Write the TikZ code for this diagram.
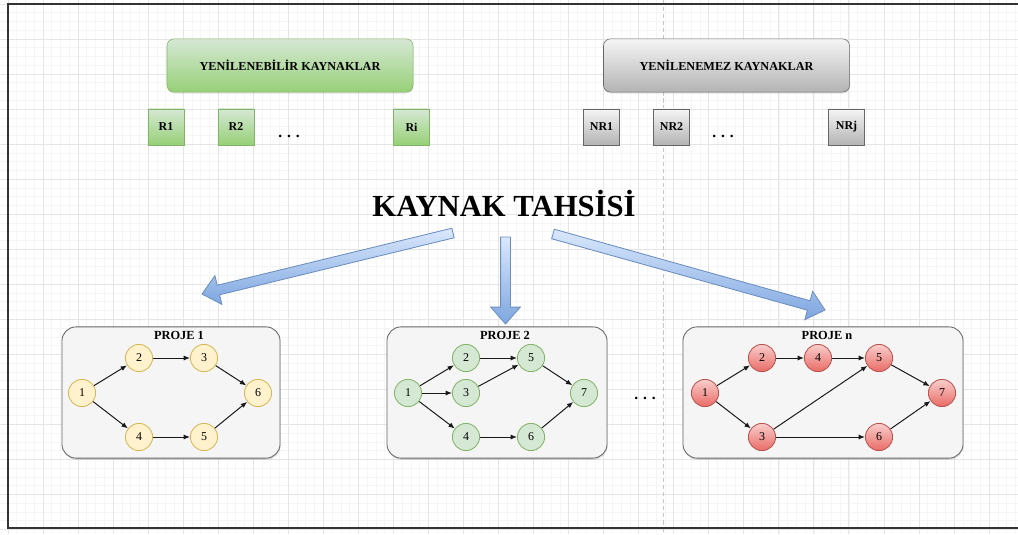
\documentclass[tikz,border=0pt]{standalone}
\usepackage{fontspec}
\setmainfont{Liberation Serif}
\usepackage{xcolor}
\definecolor{grnfill}{HTML}{D5E8D4}
\definecolor{grndark}{HTML}{97D077}
\definecolor{grnline}{HTML}{82B366}
\definecolor{gryfill}{HTML}{F5F5F5}
\definecolor{grydark}{HTML}{B3B3B3}
\definecolor{gryline}{HTML}{666666}
\definecolor{ylwfill}{HTML}{FFF2CC}
\definecolor{ylwline}{HTML}{D6B656}
\definecolor{redfill}{HTML}{F8CECC}
\definecolor{reddark}{HTML}{EA6B66}
\definecolor{redline}{HTML}{B85450}
\definecolor{blufill}{HTML}{DAE8FC}
\definecolor{bludark}{HTML}{7EA6E0}
\definecolor{bluline}{HTML}{6C8EBF}
\usepackage{tikz}
\usetikzlibrary{arrows.meta,calc,shadows}
\newcommand{\blockarrow}[2]{%
  \coordinate (#2h) at ($(#2)!12pt!(#1)$);
  \path[barrow] ($(#1)!3.5pt!90:(#2)$) -- ($(#2h)!3.5pt!-90:(#1)$) -- ($(#2h)!10.5pt!-90:(#1)$)
    -- (#2) -- ($(#2h)!10.5pt!90:(#1)$) -- ($(#2h)!3.5pt!90:(#1)$) -- ($(#1)!3.5pt!-90:(#2)$) -- cycle;}
\tikzset{
  gridmin/.style={draw=black!4, line width=0.5pt},
  gridmaj/.style={draw=black!10, line width=0.7pt},
  divline/.style={draw=black!22, line width=0.6pt, dash pattern=on 3pt off 2pt},
  outframe/.style={draw=black!80, line width=1.4pt},
  renbox/.style={draw=grnline, rounded corners=5pt, top color=grnfill, bottom color=grndark, minimum width=6.15cm, minimum height=1.33cm, font=\fontsize{8.7}{10}\selectfont\bfseries, drop shadow={shadow xshift=0.4pt, shadow yshift=-1pt, opacity=0.2}},
  nrenbox/.style={renbox, draw=gryline, top color=gryfill, bottom color=grydark},
  rsq/.style={draw=grnline, top color=grnfill, bottom color=grndark, minimum size=0.9cm, inner sep=0pt, font=\fontsize{8.5}{10}\selectfont\bfseries},
  nrsq/.style={rsq, draw=gryline, top color=gryfill, bottom color=grydark},
  dotlbl/.style={anchor=base, font=\fontsize{11}{12}\selectfont\bfseries, inner sep=0pt},
  bigtitle/.style={anchor=base, font=\fontsize{21.8}{24}\selectfont\bfseries},
  barrow/.style={draw=bluline, top color=blufill, bottom color=bludark, line width=0.6pt},
  projbox/.style={draw=gryline, rounded corners=10pt, fill=gryfill, minimum height=3.28cm, line width=0.6pt, drop shadow={shadow xshift=0.4pt, shadow yshift=-1.2pt, opacity=0.25}},
  ptitle/.style={font=\fontsize{8.8}{10}\selectfont\bfseries, inner sep=0pt},
  ynode/.style={circle, draw=ylwline, fill=ylwfill, minimum size=0.68cm, inner sep=0pt, line width=0.6pt, font=\fontsize{8.5}{10}\selectfont},
  gnode/.style={ynode, draw=grnline, fill=grnfill},
  rnode/.style={ynode, draw=redline, top color=redfill, bottom color=reddark},
  arr/.style={-{Latex[length=4.5pt,width=3.6pt]}, line width=0.7pt, black!90}
}
\begin{document}
\begin{tikzpicture}[x=0.025cm, y=-0.025cm]
  \useasboundingbox (0,0) rectangle (1018,534);
  \foreach \k in {-1,...,115} \draw[gridmin] ({8+\k*8.76},0) -- ({8+\k*8.76},534);
  \foreach \k in {-1,...,60} \draw[gridmin] (0,{4+\k*8.76}) -- (1018,{4+\k*8.76});
  \foreach \k in {0,...,28} \draw[gridmaj] ({8+\k*35.04},0) -- ({8+\k*35.04},534);
  \foreach \k in {0,...,15} \draw[gridmaj] (0,{4+\k*35.04}) -- (1018,{4+\k*35.04});
  \draw[divline] (663,0) -- (663,534);
  \draw[outframe] (1018,4) -- (8,4) -- (8,528) -- (1018,528);

  \node[renbox] (ren) at (290,65.5) {YENİLENEBİLİR KAYNAKLAR};
  \node[nrenbox] (nren) at (726.5,65.5) {YENİLENEMEZ KAYNAKLAR};
  \node[rsq] (r1) at (166,127) {R1};
  \node[rsq] (r2) at (236,127) {R2};
  \node[dotlbl] (rdots) at (289,137) {.\hspace{3.5pt}.\hspace{3.5pt}.};
  \node[rsq] (ri) at (411.5,127) {Ri};
  \node[nrsq] (nr1) at (601.5,127) {NR1};
  \node[nrsq] (nr2) at (671.5,127) {NR2};
  \node[dotlbl] (nrdots) at (723,137) {.\hspace{3.5pt}.\hspace{3.5pt}.};
  \node[nrsq] (nrj) at (846.5,127) {NRj};

  \node[bigtitle] (tahsis) at (504,216) {KAYNAK TAHSİSİ};
  \coordinate (a1s) at (453,233);
  \coordinate (a1e) at (202,294);
  \coordinate (a2s) at (505.5,237);
  \coordinate (a2e) at (505.5,324);
  \coordinate (a3s) at (553,234);
  \coordinate (a3e) at (825,310);
  \blockarrow{a1s}{a1e}
  \blockarrow{a2s}{a2e}
  \blockarrow{a3s}{a3e}

  \node[projbox, minimum width=5.45cm] (p1) at (171,392.5) {};
  \node[ptitle] (p1t) at (179,335) {PROJE 1};
  \node[ynode] (a1) at (82,393) {1};
  \node[ynode] (a2) at (139,358) {2};
  \node[ynode] (a3) at (204,358) {3};
  \node[ynode] (a4) at (139,437) {4};
  \node[ynode] (a5) at (204,437) {5};
  \node[ynode] (a6) at (258,393) {6};
  \draw[arr] (a1) -- (a2);
  \draw[arr] (a2) -- (a3);
  \draw[arr] (a3) -- (a6);
  \draw[arr] (a1) -- (a4);
  \draw[arr] (a4) -- (a5);
  \draw[arr] (a5) -- (a6);

  \node[projbox, minimum width=5.5cm] (p2) at (497,392.5) {};
  \node[ptitle] (p2t) at (505,335) {PROJE 2};
  \node[gnode] (b1) at (408,393) {1};
  \node[gnode] (b2) at (466,358) {2};
  \node[gnode] (b3) at (466,393) {3};
  \node[gnode] (b4) at (466,437) {4};
  \node[gnode] (b5) at (531,358) {5};
  \node[gnode] (b6) at (531,437) {6};
  \node[gnode] (b7) at (584,393) {7};
  \draw[arr] (b1) -- (b2);
  \draw[arr] (b1) -- (b3);
  \draw[arr] (b1) -- (b4);
  \draw[arr] (b2) -- (b5);
  \draw[arr] (b3) -- (b5);
  \draw[arr] (b4) -- (b6);
  \draw[arr] (b5) -- (b7);
  \draw[arr] (b6) -- (b7);

  \node[dotlbl] (pdots) at (645,399) {.\hspace{3.5pt}.\hspace{3.5pt}.};

  \node[projbox, minimum width=7cm] (pn) at (823,392.5) {};
  \node[ptitle] (pnt) at (827,335) {PROJE n};
  \node[rnode] (c1) at (705,393) {1};
  \node[rnode] (c2) at (762,358) {2};
  \node[rnode] (c3) at (762,437) {3};
  \node[rnode] (c4) at (818,358) {4};
  \node[rnode] (c5) at (879,358) {5};
  \node[rnode] (c6) at (879,437) {6};
  \node[rnode] (c7) at (942,393) {7};
  \draw[arr] (c1) -- (c2);
  \draw[arr] (c2) -- (c4);
  \draw[arr] (c4) -- (c5);
  \draw[arr] (c1) -- (c3);
  \draw[arr] (c3) -- (c5);
  \draw[arr] (c3) -- (c6);
  \draw[arr] (c5) -- (c7);
  \draw[arr] (c6) -- (c7);
\end{tikzpicture}
\end{document}
